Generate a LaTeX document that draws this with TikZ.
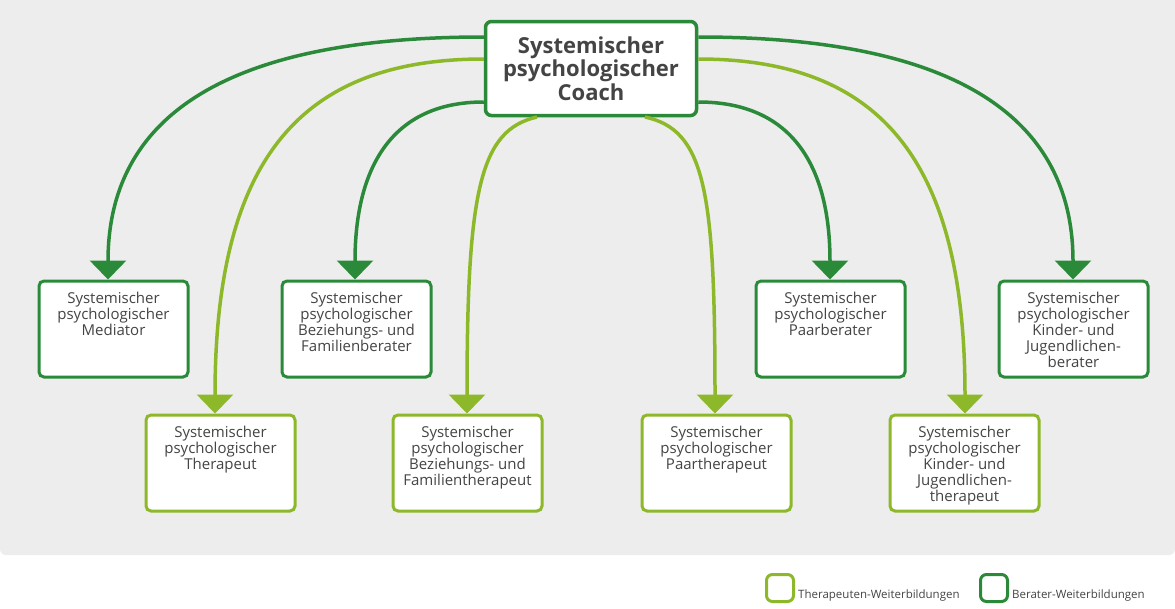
\documentclass[tikz,border=0pt]{standalone}
\usepackage{fontspec}
\setmainfont{Open Sans}
\usetikzlibrary{arrows.meta}
\definecolor{dg}{HTML}{2A8A3A}
\definecolor{lg}{HTML}{8DB82A}
\definecolor{bg}{HTML}{EDEDED}
\definecolor{tx}{HTML}{444444}
\newcommand{\bxt}[1]{\parbox[t][88pt][t]{145pt}{\centering\vspace*{7pt}#1}}
\begin{document}
\begin{tikzpicture}[x=1pt,y=-1pt,
 box/.style={draw=#1,line width=3pt,rounded corners=5pt,fill=white,minimum width=147pt,minimum height=96pt,anchor=north west,text=tx,font=\fontsize{15}{16}\selectfont,inner sep=2pt},
 ar/.style={draw=#1,line width=3.5pt,-{Triangle[width=36pt,length=19pt]}},
 leg/.style={draw=#1,line width=3pt,rounded corners=6pt,minimum width=27pt,minimum height=27pt,inner sep=0pt}]
\useasboundingbox (0,0) rectangle (1175,608);
\fill[white] (0,0) rectangle (1175,608);
\fill[bg,rounded corners=6pt] (0,-6) rectangle (1175,555);
\node[draw=dg,line width=3.5pt,rounded corners=6pt,fill=white,minimum width=211pt,minimum height=94pt,text=tx,font=\fontsize{22}{23.5}\selectfont\bfseries,align=center] (c) at (591,68.5) {Systemischer\\psychologischer\\Coach};
% dark row
\node[box=dg] (m) at (37.5,279.5) {\bxt{Systemischer\\psychologischer\\Mediator}};
\node[box=dg] (bb) at (280.5,279.5) {\bxt{Systemischer\\psychologischer\\Beziehungs- und\\Familienberater}};
\node[box=dg] (pb) at (754.5,279.5) {\bxt{Systemischer\\psychologischer\\Paarberater}};
\node[box=dg] (kb) at (997.5,279.5) {\bxt{Systemischer\\psychologischer\\Kinder- und\\Jugendlichen-\\berater}};
% light row
\node[box=lg] (t) at (144.5,413.5) {\bxt{Systemischer\\psychologischer\\Therapeut}};
\node[box=lg] (ft) at (391.5,413.5) {\bxt{Systemischer\\psychologischer\\Beziehungs- und\\Familientherapeut}};
\node[box=lg] (pt) at (640.5,413.5) {\bxt{Systemischer\\psychologischer\\Paartherapeut}};
\node[box=lg] (kt) at (888.5,413.5) {\bxt{Systemischer\\psychologischer\\Kinder- und\\Jugendlichen-\\therapeut}};
% arrows
\draw[ar=dg] (c.west|-0,37) .. controls (220,37) and (108,120) .. (m.north-|108,0);
\draw[ar=lg] (c.west|-0,59) .. controls (300,59) and (215,160) .. (t.north-|215,0);
\draw[ar=dg] (c.west|-0,102) .. controls (390,102) and (355,170) .. (bb.north-|355,0);
\draw[ar=lg] (537,117) .. controls (480,130) and (467,190) .. (ft.north-|467,0);
\draw[ar=lg] (645,117) .. controls (705,130) and (715,190) .. (pt.north-|715,0);
\draw[ar=dg] (c.east|-0,102) .. controls (795,102) and (830,170) .. (pb.north-|830,0);
\draw[ar=lg] (c.east|-0,59) .. controls (880,59) and (965,160) .. (kt.north-|965,0);
\draw[ar=dg] (c.east|-0,37) .. controls (960,37) and (1073,120) .. (kb.north-|1073,0);
% legend
\node[leg=lg] (l1) at (780,588) {};
\node[anchor=west,text=tx,font=\fontsize{11.5}{12}\selectfont,inner sep=0pt] (l1t) at (798,596) {Therapeuten-Weiterbildungen};
\node[leg=dg] (l2) at (994,588) {};
\node[anchor=west,text=tx,font=\fontsize{11.5}{12}\selectfont,inner sep=0pt] (l2t) at (1012,596) {Berater-Weiterbildungen};
\end{tikzpicture}
\end{document}
